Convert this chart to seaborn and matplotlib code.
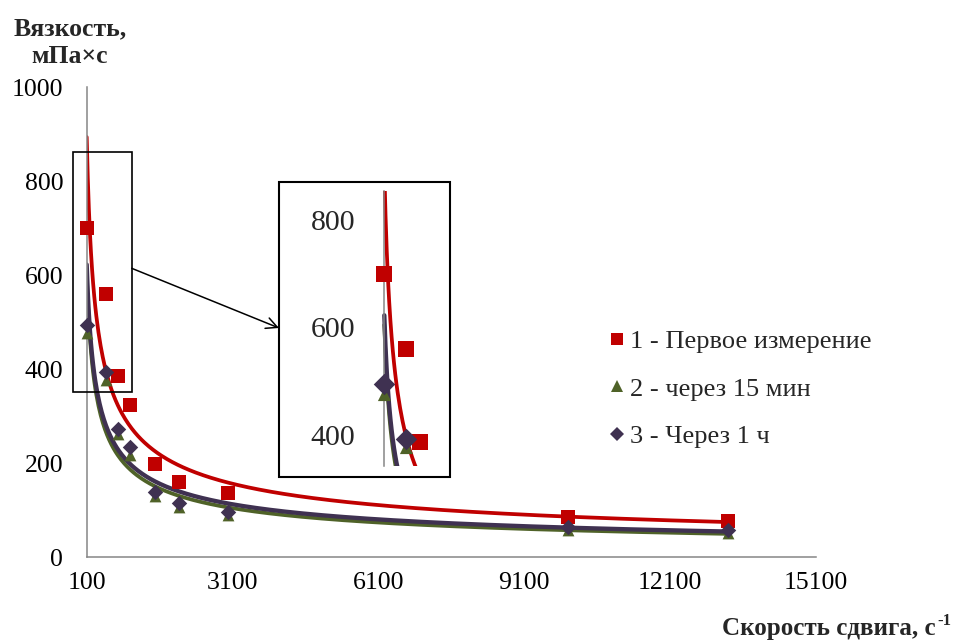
import numpy as np
import pandas as pd
import matplotlib
matplotlib.use("Agg")
import matplotlib.pyplot as plt
from matplotlib.patches import Rectangle, FancyArrowPatch
from matplotlib.lines import Line2D
import seaborn as sns

# Shear rate, 1/s
shear_rate = [100, 500, 750, 1000, 1500, 2000, 3000, 10000, 13300]
# Viscosity, mPa*s
visc_first = [700, 560, 386, 324, 198, 160, 136, 86, 77]
visc_15min = [476, 377, 261, 217, 130, 107, 89, 58, 51]
visc_1h = [494, 393, 272, 234, 139, 116, 95, 63, 57]

series_labels = ["1 - Первое измерение", "2 - через 15 мин", "3 - Через 1 ч"]
x_ticks = [100, 3100, 6100, 9100, 12100, 15100]
y_ticks = [0, 200, 400, 600, 800, 1000]
inset_y_ticks = [400, 600, 800]

colors = ["#C00000", "#4F6228", "#3F3151"]
markers = ["s", "^", "D"]
main_sizes = [92, 72, 62]
inset_sizes = [118, 90, 120]
line_widths = [2.7, 2.7, 3.1]

sns.set_style("white")
plt.rcParams["font.family"] = ["Liberation Serif", "DejaVu Serif"]

GRAY = "#868686"

# Long-form table of measurements
points = pd.DataFrame({
    "rate": shear_rate * 3,
    "visc": visc_first + visc_15min + visc_1h,
    "series": np.repeat(series_labels, len(shear_rate)),
})

# Power-law trendlines  y = a * x^b  fitted in log-log space
fit_frames = []
x_fit = np.linspace(min(shear_rate), max(shear_rate), 600)
for lab, vals in zip(series_labels, [visc_first, visc_15min, visc_1h]):
    b, ln_a = np.polyfit(np.log(shear_rate), np.log(vals), 1)
    fit_frames.append(pd.DataFrame({"rate": x_fit,
                                    "visc": np.exp(ln_a) * x_fit ** b,
                                    "series": lab}))
fits = pd.concat(fit_frames, ignore_index=True)

W, H = 962, 642
fig = plt.figure(figsize=(W / 100, H / 100), dpi=100)


def fx(px):
    return px / W


def fy(py):
    return 1 - py / H


def draw_series(ax, sizes, clip):
    for lab, col, lw in zip(series_labels, colors, line_widths):
        sns.lineplot(data=fits[fits.series == lab], x="rate", y="visc",
                     color=col, linewidth=lw, ax=ax, sort=False,
                     legend=False, zorder=2)
    for lab, col, mk, s in zip(series_labels, colors, markers, sizes):
        sns.scatterplot(data=points[points.series == lab], x="rate", y="visc",
                        color=col, marker=mk, s=s, linewidth=0, ax=ax,
                        legend=False, zorder=3, clip_on=clip)


# Main axes
ax = fig.add_axes([fx(86.7), fy(557), fx(815.7 - 86.7), (557 - 87.3) / H])
draw_series(ax, main_sizes, clip=False)
ax.set_xlim(100, 15100)
ax.set_ylim(0, 1000)
ax.set_xticks(x_ticks)
ax.set_xticklabels([str(t) for t in x_ticks])
ax.set_yticks(y_ticks)
ax.set_yticklabels([str(t) for t in y_ticks])
ax.set_xlabel("")
ax.set_ylabel("")
for side in ["top", "right"]:
    ax.spines[side].set_visible(False)
for side in ["left", "bottom"]:
    ax.spines[side].set_color(GRAY)
    ax.spines[side].set_linewidth(1.1)
ax.tick_params(axis="both", direction="out", length=5.8, width=1.1,
               color=GRAY, labelsize=18.5, labelcolor="black")
ax.tick_params(axis="y", pad=11)
ax.tick_params(axis="x", pad=5)

# Highlight box around the low-shear region
ax.add_patch(Rectangle((-188, 351), 1214, 512, fill=False, ec="black",
                       lw=1.2, clip_on=False, zorder=4))

# Zoomed inset
inset = fig.add_axes([fx(365), fy(466), fx(448 - 365), (466 - 191) / H])
inset.set_facecolor("white")
draw_series(inset, inset_sizes, clip=True)
inset.set_xlim(-250, 1254)
inset.set_ylim(342, 854)
inset.set_yticks(inset_y_ticks)
inset.set_yticklabels([str(t) for t in inset_y_ticks])
inset.set_xticks([])
inset.set_xlabel("")
inset.set_ylabel("")
for side in ["top", "right", "bottom"]:
    inset.spines[side].set_visible(False)
inset.spines["left"].set_position(("data", 100))
inset.spines["left"].set_color(GRAY)
inset.spines["left"].set_linewidth(1.1)
inset.tick_params(axis="y", direction="out", length=6.7, width=1.1,
                  color=GRAY, labelsize=21.5, pad=14)

fig.add_artist(Rectangle((fx(279), fy(476.7)), fx(450.3 - 279),
                         (476.7 - 181.7) / H, transform=fig.transFigure,
                         fill=False, ec="black", lw=1.5, zorder=5))
fig.add_artist(FancyArrowPatch((fx(131.7), fy(268.3)), (fx(279), fy(328)),
                               transform=fig.transFigure, arrowstyle="->",
                               mutation_scale=20, lw=1.1, color="black",
                               shrinkA=0, shrinkB=0, zorder=5))

# Legend
handles = [Line2D([], [], linestyle="none", marker=m, color=c,
                  markersize=ms, markeredgewidth=0)
           for m, c, ms in zip(markers, colors, [8.6, 9.0, 7.0])]
fig.legend(handles, series_labels, loc="upper left",
           bbox_to_anchor=(fx(609), fy(330)), frameon=False, fontsize=19,
           handlelength=0.6, handletextpad=0.2, borderpad=0,
           borderaxespad=0, labelspacing=0.9)

# Axis titles
fig.text(fx(70), fy(35), "Вязкость,", ha="center", va="baseline",
         fontsize=18.5, fontweight="bold")
fig.text(fx(70), fy(63), "мПа×с", ha="center", va="baseline",
         fontsize=18.5, fontweight="bold")
fig.text(fx(936), fy(635), "Скорость сдвига, с",
         ha="right", va="baseline", fontsize=18, fontweight="bold")
fig.text(fx(937), fy(625), "-1",
         ha="left", va="baseline", fontsize=12, fontweight="bold")

fig.savefig("out.png", dpi=100)
